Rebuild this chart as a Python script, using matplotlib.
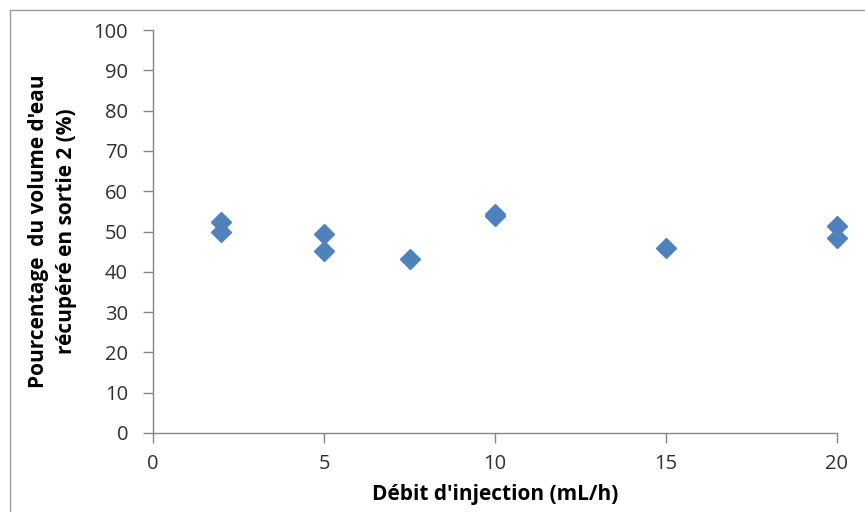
import matplotlib
matplotlib.use("Agg")
import matplotlib.pyplot as plt
from matplotlib.patches import Rectangle

# Données
debit = [2, 2, 5, 5, 7.5, 10, 10, 15, 20, 20]
pourcentage = [52.3, 49.8, 49.4, 45.1, 43.3, 54.4, 53.8, 45.9, 51.4, 48.5]

xticks = [0, 5, 10, 15, 20]
yticks = [0, 10, 20, 30, 40, 50, 60, 70, 80, 90, 100]

plt.rcParams['font.family'] = ['Open Sans', 'DejaVu Sans']

fig = plt.figure(figsize=(8.65, 5.12), dpi=100)
ax = fig.add_axes([153 / 865, 1 - 433 / 512, (837 - 153) / 865, (433 - 30) / 512])

ax.plot(debit, pourcentage, linestyle='none', marker='D', markersize=10,
        color='#4F81BD', markeredgecolor='#4F81BD', clip_on=False, zorder=3)

ax.set_xlim(0, 20)
ax.set_ylim(0, 100)
ax.set_xticks(xticks)
ax.set_yticks(yticks)

gris = '#868686'
for cote in ['top', 'right']:
    ax.spines[cote].set_visible(False)
for cote in ['left', 'bottom']:
    ax.spines[cote].set_color(gris)
    ax.spines[cote].set_linewidth(1.0)

ax.tick_params(axis='both', direction='out', length=7, width=1, color=gris,
               labelsize=14.5, labelcolor='#303030')
ax.tick_params(axis='y', pad=11)
ax.tick_params(axis='x', pad=8)

ax.set_xlabel("Débit d'injection (mL/h)", fontsize=15, fontweight='bold', labelpad=7)
ax.set_ylabel("Pourcentage  du volume d'eau\nrécupéré en sortie 2 (%)",
              fontsize=15, fontweight='bold', labelpad=12, linespacing=1.4)

# cadre autour du graphique
fig.patches.append(Rectangle((10 / 865, -0.01), 1.02, 1 - 10 / 512 + 0.01,
                             transform=fig.transFigure, fill=False,
                             edgecolor='#9a9a9a', linewidth=1))

fig.savefig("out.png", dpi=100)
